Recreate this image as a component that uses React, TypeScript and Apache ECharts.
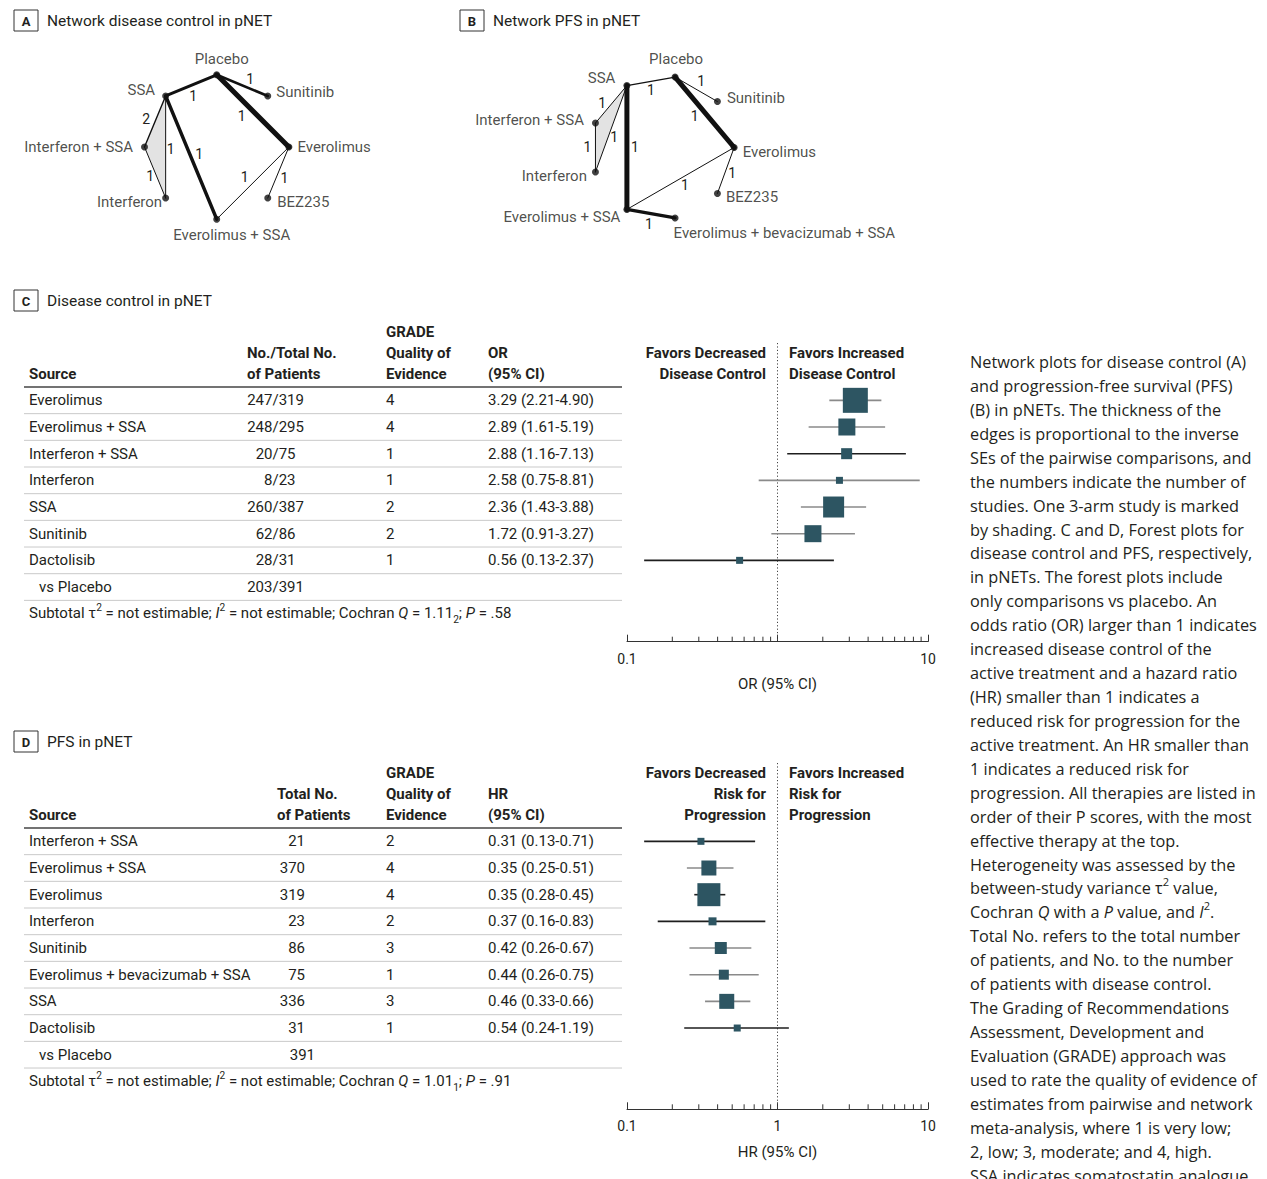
import React, { useEffect, useRef } from "react";
import * as echarts from "echarts";

// ---------------- DATA ----------------
// Network A: disease control
const nodesA = ["Placebo", "Sunitinib", "Everolimus", "BEZ235", "Everolimus + SSA", "Interferon", "Interferon + SSA", "SSA"];
const edgeFromA = ["Placebo", "Placebo", "Placebo", "SSA", "SSA", "Interferon + SSA", "SSA", "Everolimus", "Everolimus"];
const edgeToA = ["SSA", "Sunitinib", "Everolimus", "Interferon + SSA", "Interferon", "Interferon", "Everolimus + SSA", "Everolimus + SSA", "BEZ235"];
const edgeStudiesA = [1, 1, 1, 2, 1, 1, 1, 1, 1];
const edgePrecisionA = [3, 2.6, 5, 1.4, 1, 1, 3.5, 1, 1];
const threeArmA = ["SSA", "Interferon + SSA", "Interferon"];

// Network B: PFS
const nodesB = ["Placebo", "Sunitinib", "Everolimus", "BEZ235", "Everolimus + bevacizumab + SSA", "Everolimus + SSA", "Interferon", "Interferon + SSA", "SSA"];
const edgeFromB = ["SSA", "Placebo", "Placebo", "SSA", "SSA", "Interferon + SSA", "SSA", "Everolimus + SSA", "Everolimus", "Everolimus + SSA"];
const edgeToB = ["Placebo", "Sunitinib", "Everolimus", "Interferon + SSA", "Interferon", "Interferon", "Everolimus + SSA", "Everolimus", "BEZ235", "Everolimus + bevacizumab + SSA"];
const edgeStudiesB = [1, 1, 1, 1, 1, 1, 1, 1, 1, 1];
const edgePrecisionB = [1.4, 1, 5, 1, 1, 1, 5, 1, 1, 3.2];
const threeArmB = ["SSA", "Interferon + SSA", "Interferon"];

// Forest C: disease control (OR)
const sourcesC = ["Everolimus", "Everolimus + SSA", "Interferon + SSA", "Interferon", "SSA", "Sunitinib", "Dactolisib"];
const eventsC = [247, 248, 20, 8, 260, 62, 28];
const totalsC = [319, 295, 75, 23, 387, 86, 31];
const gradeC = [4, 4, 1, 1, 2, 2, 1];
const orC = [3.29, 2.89, 2.88, 2.58, 2.36, 1.72, 0.56];
const loC = [2.21, 1.61, 1.16, 0.75, 1.43, 0.91, 0.13];
const hiC = [4.90, 5.19, 7.13, 8.81, 3.88, 3.27, 2.37];
const weightC = [1.0, 0.68, 0.44, 0.28, 0.84, 0.68, 0.28];
const placeboEventsC = 203;
const placeboTotalC = 391;

// Forest D: PFS (HR)
const sourcesD = ["Interferon + SSA", "Everolimus + SSA", "Everolimus", "Interferon", "Sunitinib", "Everolimus + bevacizumab + SSA", "SSA", "Dactolisib"];
const totalsD = [21, 370, 319, 23, 86, 75, 336, 31];
const gradeD = [2, 4, 4, 2, 3, 1, 3, 1];
const hrD = [0.31, 0.35, 0.35, 0.37, 0.42, 0.44, 0.46, 0.54];
const loD = [0.13, 0.25, 0.28, 0.16, 0.26, 0.26, 0.33, 0.24];
const hiD = [0.71, 0.51, 0.45, 0.83, 0.67, 0.75, 0.66, 1.19];
const weightD = [0.28, 0.6, 0.92, 0.32, 0.48, 0.4, 0.6, 0.28];
const placeboTotalD = 391;

const minorTickValues = [0.2, 0.3, 0.4, 0.5, 0.6, 0.7, 0.8, 0.9, 2, 3, 4, 5, 6, 7, 8, 9];

const captionLines = [
  "Network plots for disease control (A)",
  "and progression-free survival (PFS)",
  "(B) in pNETs. The thickness of the",
  "edges is proportional to the inverse",
  "SEs of the pairwise comparisons, and",
  "the numbers indicate the number of",
  "studies. One 3-arm study is marked",
  "by shading. C and D, Forest plots for",
  "disease control and PFS, respectively,",
  "in pNETs. The forest plots include",
  "only comparisons vs placebo. An",
  "odds ratio (OR) larger than 1 indicates",
  "increased disease control of the",
  "active treatment and a hazard ratio",
  "(HR) smaller than 1 indicates a",
  "reduced risk for progression for the",
  "active treatment. An HR smaller than",
  "1 indicates a reduced risk for",
  "progression. All therapies are listed in",
  "order of their P scores, with the most",
  "effective therapy at the top.",
  "Heterogeneity was assessed by the",
  "between-study variance τ{sup|2} value,",
  "Cochran {i|Q} with a {i|P} value, and {i|I}{sup|2}.",
  "Total No. refers to the total number",
  "of patients, and No. to the number",
  "of patients with disease control.",
  "The Grading of Recommendations",
  "Assessment, Development and",
  "Evaluation (GRADE) approach was",
  "used to rate the quality of evidence of",
  "estimates from pairwise and network",
  "meta-analysis, where 1 is very low;",
  "2, low; 3, moderate; and 4, high.",
  "SSA indicates somatostatin analogue",
];

// ---------------- STYLE ----------------
const W = 1267;
const H = 1179;
const FONT = "Roboto, 'Liberation Sans', Arial, sans-serif";
const CAP_FONT = "'Open Sans', 'DejaVu Sans', sans-serif";
const INK = "#231f20";
const BOX_COLOR = "#2d5562";
const CI_DARK = "#1e1e1e";
const CI_GRAY = "#8a8a8a";
const ciColorsC = [CI_GRAY, CI_GRAY, CI_DARK, CI_GRAY, CI_GRAY, CI_GRAY, CI_DARK];
const ciColorsD = [CI_DARK, CI_GRAY, CI_DARK, CI_DARK, CI_GRAY, CI_GRAY, CI_GRAY, CI_DARK];
const MAX_BOX = 25;
const ROW = 26.67;

const edgeLabelOffsetA = [[2, 10.5], [8, -6.5], [-11, 5], [-9, -2], [5, 2], [-5, 3], [8, -3.5], [-8, -6], [6, 5]];
const edgeLabelOffsetB = [[0, 9], [5, -8], [-10, 4], [-9, -1], [3, 8], [-8, -1], [8, -1], [4.5, 7], [6.5, 3], [-2, 10]];

const nodeLabelA: Record<string, any> = {
  Placebo: { position: "top", offset: [5, 0] },
  SSA: { position: "left", offset: [-2, -6] },
  Sunitinib: { position: "right", offset: [0, -4] },
  Everolimus: { position: "right", offset: [0, 0] },
  "Interferon + SSA": { position: "left", offset: [-3, 0] },
  Interferon: { position: "left", offset: [5, 4] },
  BEZ235: { position: "right", offset: [1, 4] },
  "Everolimus + SSA": { position: "bottom", offset: [15, 0] },
};
const nodeLabelB: Record<string, any> = {
  Placebo: { position: "top", offset: [1, -2] },
  SSA: { position: "left", offset: [-3, -8] },
  Sunitinib: { position: "right", offset: [1, -4] },
  "Interferon + SSA": { position: "left", offset: [-3, -3] },
  Everolimus: { position: "right", offset: [0, 4] },
  Interferon: { position: "left", offset: [0, 4] },
  BEZ235: { position: "right", offset: [0, 4] },
  "Everolimus + SSA": { position: "left", offset: [2, 8] },
  "Everolimus + bevacizumab + SSA": { position: [2, 11], align: "left", verticalAlign: "top" },
};

// circular layout (angles in degrees, clockwise on screen)
function circleLayout(nodes: string[], startDeg: number) {
  const step = 360 / nodes.length;
  const pos: Record<string, number[]> = {};
  nodes.forEach((n, k) => {
    const a = ((startDeg + step * k) * Math.PI) / 180;
    pos[n] = [Math.cos(a), Math.sin(a)];
  });
  return pos;
}
const posA = circleLayout(nodesA, -90);
const posB = circleLayout(nodesB, -80);

// ---------------- HELPERS ----------------
function txt(x: number, y: number, text: string, o: any = {}) {
  return {
    type: "text",
    x,
    y,
    silent: true,
    style: {
      text,
      fill: o.fill || INK,
      fontFamily: o.fontFamily || FONT,
      fontSize: o.fontSize || 15,
      fontWeight: o.fontWeight || "normal",
      fontStyle: o.fontStyle || "normal",
      align: o.align || "left",
      verticalAlign: "middle",
      lineHeight: o.lineHeight,
      rich: o.rich,
    },
  };
}
function hline(x1: number, x2: number, y: number, stroke: string, lineWidth: number) {
  return { type: "line", silent: true, shape: { x1, y1: y, x2, y2: y }, style: { stroke, lineWidth } };
}
function panelLabel(x: number, y: number, letter: string, title: string) {
  return [
    { type: "rect", silent: true, shape: { x, y, width: 24, height: 21 }, style: { fill: "#fff", stroke: "#333", lineWidth: 1 } },
    txt(x + 12, y + 11, letter, { align: "center", fontWeight: "bold", fontSize: 13 }),
    txt(x + 33, y + 10.5, title, { fontSize: 15.5 }),
  ];
}
function richStyles(fontFamily: string, fontSize: number) {
  return {
    sup: { fontFamily, fontSize: fontSize * 0.68, lineHeight: 10, verticalAlign: "top", fill: INK },
    sub: { fontFamily, fontSize: fontSize * 0.68, lineHeight: 13, verticalAlign: "bottom", fill: INK },
    i: { fontFamily, fontSize, fontStyle: "italic", fill: INK },
  };
}
const fmt2 = (v: number) => v.toFixed(2);
const DIGIT_W = 15 * 0.5625;

// ---------------- SERIES BUILDERS ----------------
function networkSeries(grid: number, nodes: string[], pos: Record<string, number[]>, from: string[], to: string[],
  studies: number[], prec: number[], offs: number[][], threeArm: string[], labelCfg: Record<string, any>) {
  return [
    {
      type: "custom", coordinateSystem: "cartesian2d", xAxisIndex: grid, yAxisIndex: grid, clip: false, z: 1,
      data: [[0, 0]],
      renderItem: (_p: any, api: any) => ({
        type: "polygon",
        shape: { points: threeArm.map((n) => api.coord(pos[n])) },
        style: { fill: "#e3e3e3", stroke: "none" },
      }),
    },
    {
      type: "custom", coordinateSystem: "cartesian2d", xAxisIndex: grid, yAxisIndex: grid, clip: false, z: 3,
      data: from.map((f, i) => [(pos[f][0] + pos[to[i]][0]) / 2, (pos[f][1] + pos[to[i]][1]) / 2]),
      renderItem: (params: any, api: any) => {
        const i = params.dataIndex;
        const a = api.coord(pos[from[i]]);
        const b = api.coord(pos[to[i]]);
        const mx = (a[0] + b[0]) / 2;
        const my = (a[1] + b[1]) / 2;
        return {
          type: "group",
          children: [
            { type: "line", shape: { x1: a[0], y1: a[1], x2: b[0], y2: b[1] }, style: { stroke: "#111", lineWidth: prec[i], lineCap: "round" } },
            {
              type: "text", x: mx + offs[i][0], y: my + offs[i][1],
              style: { text: String(studies[i]), fill: INK, fontSize: 14, fontFamily: FONT, align: "center", verticalAlign: "middle" },
            },
          ],
        };
      },
    },
    {
      type: "scatter", xAxisIndex: grid, yAxisIndex: grid, z: 4, symbolSize: 7, itemStyle: { color: "#111" },
      label: { show: true, formatter: "{b}", fontSize: 15, fontFamily: FONT, color: INK, distance: 5 },
      data: nodes.map((n) => ({ name: n, value: pos[n], label: labelCfg[n] })),
    },
  ];
}

function forestSeries(grid: number, est: number[], lo: number[], hi: number[], w: number[], ciColors: string[], yMax: number, headerExtra: number) {
  return [
    {
      type: "custom", coordinateSystem: "cartesian2d", xAxisIndex: grid, yAxisIndex: grid, clip: false, z: 2,
      data: [[1, yMax]],
      renderItem: (_p: any, api: any) => {
        const top = api.coord([1, -0.5]);
        const bot = api.coord([1, yMax]);
        return {
          type: "line",
          shape: { x1: top[0], y1: top[1] - headerExtra, x2: bot[0], y2: bot[1] },
          style: { stroke: "#444", lineWidth: 1, lineDash: [1.2, 2.2] },
        };
      },
    },
    {
      type: "custom", coordinateSystem: "cartesian2d", xAxisIndex: grid, yAxisIndex: grid, clip: false, z: 2,
      data: minorTickValues.map((v) => [v, yMax]),
      renderItem: (_p: any, api: any) => {
        const p = api.coord([api.value(0), api.value(1)]);
        return { type: "line", shape: { x1: p[0], y1: p[1], x2: p[0], y2: p[1] - 5 }, style: { stroke: "#333", lineWidth: 1 } };
      },
    },
    {
      type: "custom", coordinateSystem: "cartesian2d", xAxisIndex: grid, yAxisIndex: grid, clip: false, z: 3,
      data: est.map((e, i) => [e, i, lo[i], hi[i], w[i]]),
      encode: { x: [0, 2, 3], y: 1 },
      renderItem: (params: any, api: any) => {
        const p = api.coord([api.value(0), api.value(1)]);
        const a = api.coord([api.value(2), api.value(1)]);
        const b = api.coord([api.value(3), api.value(1)]);
        const s = api.value(4) * MAX_BOX;
        return {
          type: "group",
          children: [
            { type: "line", shape: { x1: a[0], y1: a[1], x2: b[0], y2: b[1] }, style: { stroke: ciColors[params.dataIndex], lineWidth: 1.6 } },
            { type: "rect", shape: { x: p[0] - s / 2, y: p[1] - s / 2, width: s, height: s }, style: { fill: BOX_COLOR } },
          ],
        };
      },
    },
  ];
}

function forestXAxis(grid: number, name: string, showOne: boolean) {
  return {
    gridIndex: grid, type: "log", logBase: 10, min: 0.1, max: 10, position: "bottom",
    axisLine: { show: true, onZero: false, lineStyle: { color: "#333", width: 1 } },
    axisTick: { show: true, inside: true, length: 7, lineStyle: { color: "#333", width: 1 } },
    axisLabel: {
      fontSize: 14, color: INK, fontFamily: FONT, margin: 10,
      formatter: (v: number) => {
        if (Math.abs(v - 1) < 1e-9) return showOne ? "1" : "";
        return v < 1 ? String(+v.toFixed(1)) : String(Math.round(v));
      },
    },
    splitLine: { show: false },
    name, nameLocation: "middle", nameGap: 35,
    nameTextStyle: { fontSize: 15, color: INK, fontFamily: FONT },
  };
}

// ---------------- LAYOUT CONSTANTS ----------------
const C_TOP = 387;
const C_AXIS = 641.7;
const D_TOP = 828;
const D_AXIS = 1109.3;
const yMaxC = -0.5 + (C_AXIS - C_TOP) / ROW;
const yMaxD = -0.5 + (D_AXIS - D_TOP) / ROW;

function buildGraphics() {
  const g: any[] = [];
  g.push(...panelLabel(14, 10, "A", "Network disease control in pNET"));
  g.push(...panelLabel(460, 10, "B", "Network PFS in pNET"));
  g.push(...panelLabel(14, 290, "C", "Disease control in pNET"));
  g.push(...panelLabel(14, 731, "D", "PFS in pNET"));

  const B = { fontWeight: "bold" };
  // ---- Table C header
  g.push(txt(386, 332, "GRADE", B));
  g.push(txt(247, 353, "No./Total No.", B), txt(386, 353, "Quality of", B), txt(488, 353, "OR", B));
  g.push(txt(29, 374, "Source", B), txt(247, 374, "of Patients", B), txt(386, 374, "Evidence", B), txt(488, 374, "(95% CI)", B));
  g.push(txt(766, 353, "Favors Decreased", { ...B, align: "right" }), txt(766, 374, "Disease Control", { ...B, align: "right" }));
  g.push(txt(789, 353, "Favors Increased", B), txt(789, 374, "Disease Control", B));
  g.push(hline(24, 622, C_TOP, "#444", 1.5));
  const slashX = 272.5;
  const nRowsC = sourcesC.length + 1;
  for (let i = 0; i < nRowsC; i++) {
    const y = C_TOP + ROW * (i + 0.5);
    g.push(hline(24, 622, C_TOP + ROW * (i + 1), "#c9c9c9", 1));
    if (i < sourcesC.length) {
      const num = String(eventsC[i]);
      g.push(txt(29, y, sourcesC[i]));
      g.push(txt(slashX - num.length * DIGIT_W, y, `${eventsC[i]}/${totalsC[i]}`));
      g.push(txt(386, y, String(gradeC[i])));
      g.push(txt(488, y, `${fmt2(orC[i])} (${fmt2(loC[i])}-${fmt2(hiC[i])})`));
    } else {
      const num = String(placeboEventsC);
      g.push(txt(39, y, "vs Placebo"));
      g.push(txt(slashX - num.length * DIGIT_W, y, `${placeboEventsC}/${placeboTotalC}`));
    }
  }
  g.push(txt(29, C_TOP + ROW * nRowsC + 13, "Subtotal τ{sup|2} = not estimable; {i|I}{sup|2} = not estimable; Cochran {i|Q} = 1.11{sub|2}; {i|P} = .58",
    { lineHeight: 22, rich: richStyles(FONT, 15) }));

  // ---- Table D header
  g.push(txt(386, 773, "GRADE", B));
  g.push(txt(277, 794, "Total No.", B), txt(386, 794, "Quality of", B), txt(488, 794, "HR", B));
  g.push(txt(29, 815, "Source", B), txt(277, 815, "of Patients", B), txt(386, 815, "Evidence", B), txt(488, 815, "(95% CI)", B));
  g.push(txt(766, 773, "Favors Decreased", { ...B, align: "right" }), txt(766, 794, "Risk for", { ...B, align: "right" }), txt(766, 815, "Progression", { ...B, align: "right" }));
  g.push(txt(789, 773, "Favors Increased", B), txt(789, 794, "Risk for", B), txt(789, 815, "Progression", B));
  g.push(hline(24, 622, D_TOP, "#444", 1.5));
  const nRowsD = sourcesD.length + 1;
  for (let i = 0; i < nRowsD; i++) {
    const y = D_TOP + ROW * (i + 0.5);
    g.push(hline(24, 622, D_TOP + ROW * (i + 1), "#c9c9c9", 1));
    if (i < sourcesD.length) {
      g.push(txt(29, y, sourcesD[i]));
      g.push(txt(305, y, String(totalsD[i]), { align: "right" }));
      g.push(txt(386, y, String(gradeD[i])));
      g.push(txt(488, y, `${fmt2(hrD[i])} (${fmt2(loD[i])}-${fmt2(hiD[i])})`));
    } else {
      g.push(txt(39, y, "vs Placebo"));
      g.push(txt(315, y, String(placeboTotalD), { align: "right" }));
    }
  }
  g.push(txt(29, D_TOP + ROW * nRowsD + 13, "Subtotal τ{sup|2} = not estimable; {i|I}{sup|2} = not estimable; Cochran {i|Q} = 1.01{sub|1}; {i|P} = .91",
    { lineHeight: 22, rich: richStyles(FONT, 15) }));

  // ---- Caption
  captionLines.forEach((line, i) => {
    g.push(txt(970, 362 + 23.93 * i, line, { fontFamily: CAP_FONT, fontSize: 16.3, lineHeight: 24, rich: richStyles(CAP_FONT, 16.3) }));
  });
  return g;
}

export default function App() {
  const ref = useRef<HTMLDivElement>(null);
  useEffect(() => {
    if (!ref.current) return;
    const chart = echarts.init(ref.current, undefined, { renderer: "svg" });
    const hiddenVal = (grid: number) => ({ gridIndex: grid, type: "value", min: -1, max: 1, show: false });
    const option: any = {
      animation: false,
      backgroundColor: "#ffffff",
      textStyle: { fontFamily: FONT },
      grid: [
        { left: 144.5, top: 74.8, width: 144.4, height: 144.4 },
        { left: 591.15, top: 76, width: 143, height: 143 },
        { left: 627, top: C_TOP, width: 301, height: C_AXIS - C_TOP },
        { left: 627, top: D_TOP, width: 301, height: D_AXIS - D_TOP },
      ],
      xAxis: [hiddenVal(0), hiddenVal(1), forestXAxis(2, "OR (95% CI)", false), forestXAxis(3, "HR (95% CI)", true)],
      yAxis: [
        { ...hiddenVal(0), inverse: true },
        { ...hiddenVal(1), inverse: true },
        { gridIndex: 2, type: "value", inverse: true, min: -0.5, max: yMaxC, show: false },
        { gridIndex: 3, type: "value", inverse: true, min: -0.5, max: yMaxD, show: false },
      ],
      series: [
        ...networkSeries(0, nodesA, posA, edgeFromA, edgeToA, edgeStudiesA, edgePrecisionA, edgeLabelOffsetA, threeArmA, nodeLabelA),
        ...networkSeries(1, nodesB, posB, edgeFromB, edgeToB, edgeStudiesB, edgePrecisionB, edgeLabelOffsetB, threeArmB, nodeLabelB),
        ...forestSeries(2, orC, loC, hiC, weightC, ciColorsC, yMaxC, 44),
        ...forestSeries(3, hrD, loD, hiD, weightD, ciColorsD, yMaxD, 65),
      ],
      graphic: { elements: buildGraphics() },
    };
    chart.setOption(option);
    return () => chart.dispose();
  }, []);
  return <div ref={ref} style={{ position: "absolute", left: 0, top: 0, width: W, height: H }} />;
}
